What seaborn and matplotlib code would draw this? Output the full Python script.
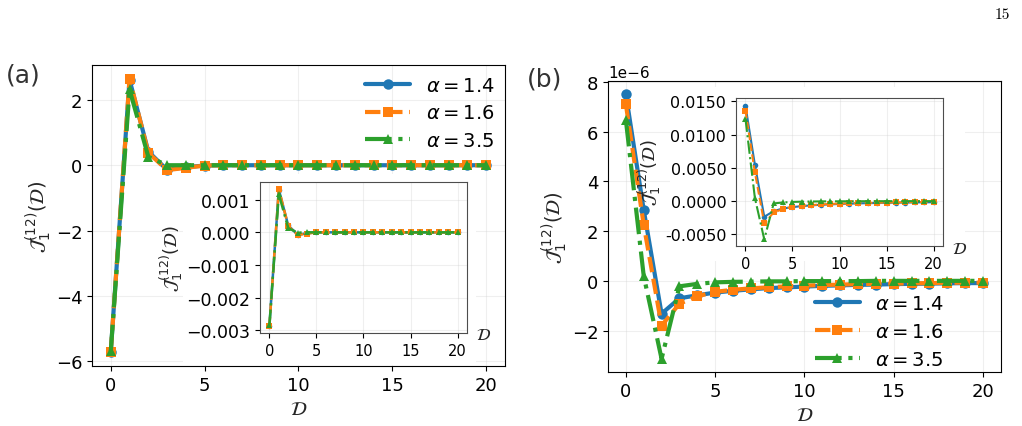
import numpy as np
import seaborn as sns
import matplotlib.pyplot as plt
from matplotlib.patches import Rectangle
from matplotlib.ticker import FormatStrFormatter

# distance D = 0..20
dist = list(range(21))
alphas = ['1.4', '1.6', '3.5']

# panel (a), main axes
a_main_14 = [-5.72, 2.62, 0.42, -0.14, -0.06, -0.01] + [0.0] * 15
a_main_16 = [-5.73, 2.65, 0.38, -0.15, -0.08, -0.01] + [0.0] * 15
a_main_35 = [-5.70, 2.32, 0.26, 0.0, 0.0, 0.0] + [0.0] * 15

# panel (a), inset
a_ins_14 = [-0.00286, 0.00131, 0.00021, -0.00007, -0.00003, 0.0] + [0.0] * 15
a_ins_16 = [-0.00287, 0.00133, 0.00019, -0.00008, -0.00004, 0.0] + [0.0] * 15
a_ins_35 = [-0.00285, 0.00117, 0.00013, -0.00001, 0.0, 0.0] + [0.0] * 15

# panel (b), main axes (in units of 1e-6)
b_main_14 = [7.50, 2.85, -1.32, -0.70, -0.58, -0.47, -0.40, -0.34, -0.29, -0.26, -0.23,
             -0.20, -0.18, -0.16, -0.15, -0.13, -0.12, -0.11, -0.10, -0.09, -0.09]
b_main_16 = [7.10, 2.25, -1.80, -0.92, -0.62, -0.44, -0.36, -0.30, -0.26, -0.22, -0.19,
             -0.17, -0.15, -0.13, -0.12, -0.11, -0.10, -0.09, -0.08, -0.07, -0.07]
b_main_35 = [6.47, 0.20, -3.13, -0.22, -0.12, -0.06, -0.04, -0.03, -0.02, -0.02, -0.01,
             -0.01, -0.01, -0.01, 0.0, 0.0, 0.0, 0.0, 0.0, 0.0, 0.0]

# panel (b), inset
b_ins_14 = [0.01435, 0.0055, -0.00235, -0.0015, -0.0011, -0.0009, -0.00075, -0.00064, -0.00055,
            -0.00049, -0.00043, -0.00038, -0.00034, -0.00031, -0.00028, -0.00025, -0.00023,
            -0.00021, -0.00019, -0.00018, -0.00017]
b_ins_16 = [0.0136, 0.00435, -0.00335, -0.0017, -0.0012, -0.00085, -0.0007, -0.0006, -0.0005,
            -0.00043, -0.00037, -0.00033, -0.0003, -0.00026, -0.00024, -0.00021, -0.00019,
            -0.00017, -0.00016, -0.00014, -0.00013]
b_ins_35 = [0.0124, 0.0005, -0.00575, -0.00035, -0.0002, -0.00012, -0.00008, -0.00006, -0.00004,
            -0.00003, -0.00003, -0.00002, -0.00002, -0.00001, -0.00001, -0.00001, 0.0, 0.0,
            0.0, 0.0, 0.0]

sns.set_style("ticks")
plt.rcParams['font.family'] = 'DejaVu Sans'
plt.rcParams['axes.edgecolor'] = 'black'
plt.rcParams['xtick.color'] = 'black'
plt.rcParams['ytick.color'] = 'black'
plt.rcParams['text.color'] = 'black'

colors = sns.color_palette('tab10', 3)
styles = ['-', '--', '-.']
markers = ['o', 's', '^']
ylab = r'$\mathcal{J}_1^{(12)}(\mathcal{D})$'
xlab = r'$\mathcal{D}$'


def draw_series(ax, series, lw, ms, legend=True):
    for vals, c, ls, mk, a in zip(series, colors, styles, markers, alphas):
        sns.lineplot(x=dist, y=vals, ax=ax, color=c, linestyle=ls, marker=mk, lw=lw,
                     ms=ms, mec=c, mew=0, label=r'$\alpha = %s$' % a if legend else None)
    ax.grid(True, alpha=0.3)
    ax.set_xticks([0, 5, 10, 15, 20])


fig = plt.figure(figsize=(10.22, 4.27), dpi=100)

# main axes
ax1 = fig.add_axes([0.090, 0.1405, 0.4041, 0.7049])
ax2 = fig.add_axes([0.5949, 0.1265, 0.3845, 0.6815])

draw_series(ax1, [a_main_14, a_main_16, a_main_35], lw=3, ms=7.5)
draw_series(ax2, [[v * 1e-6 for v in b_main_14],
                  [v * 1e-6 for v in b_main_16],
                  [v * 1e-6 for v in b_main_35]], lw=3, ms=7.5)

for ax in (ax1, ax2):
    ax.tick_params(labelsize=13)
    ax.set_xlabel(xlab, fontsize=14)
    ax.set_ylabel(ylab, fontsize=14, labelpad=2)
ax2.yaxis.get_offset_text().set_fontsize(11)

ax1.legend(loc='upper right', fontsize=14, frameon=False, handlelength=2.3,
           borderaxespad=0.15, labelspacing=0.45)
ax2.legend(loc='lower right', bbox_to_anchor=(0.875, -0.015), borderaxespad=0,
           fontsize=14, frameon=False, handlelength=2.3, labelspacing=0.45)

# white backing behind the insets
fig.add_artist(Rectangle((0.179, 0.143), 0.2867, 0.447, transform=fig.transFigure,
                         facecolor='white', edgecolor='none', zorder=0.5))
fig.add_artist(Rectangle((0.656, 0.386), 0.288, 0.408, transform=fig.transFigure,
                         facecolor='white', edgecolor='none', zorder=0.5))

# insets
in1 = fig.add_axes([0.2544, 0.2178, 0.2025, 0.3536], zorder=1)
in2 = fig.add_axes([0.7202, 0.4215, 0.2025, 0.3466], zorder=1)
draw_series(in1, [a_ins_14, a_ins_16, a_ins_35], lw=1.8, ms=4, legend=False)
draw_series(in2, [b_ins_14, b_ins_16, b_ins_35], lw=1.5, ms=4, legend=False)
in1.set_yticks([-0.003, -0.002, -0.001, 0.0, 0.001])
in1.set_ylim(-0.00308, 0.00154)
in2.yaxis.set_major_formatter(FormatStrFormatter('%.4f'))
in2.set_yticks([-0.005, 0.0, 0.005, 0.010, 0.015])
in2.set_ylim(-0.00675, 0.0155)

for ax, ysz in ((in1, 12.5), (in2, 11.5)):
    ax.tick_params(axis='y', labelsize=ysz)
    ax.tick_params(axis='x', labelsize=10.5)
    for s in ax.spines.values():
        s.set_color('0.3')
    ax.set_ylabel(ylab, fontsize=13, labelpad=1)
    ax.set_xlabel(xlab, fontsize=12)
    ax.xaxis.set_label_coords(1.08, 0.05)

fig.text(0.0225, 0.824, '(a)', fontsize=18, ha='center', va='center', color='0.2')
fig.text(0.533, 0.813, '(b)', fontsize=18, ha='center', va='center', color='0.2')
fig.text(0.981, 0.965, '15', fontsize=11, ha='center', va='center', family='cmr10')

fig.savefig('out.png', dpi=100)
